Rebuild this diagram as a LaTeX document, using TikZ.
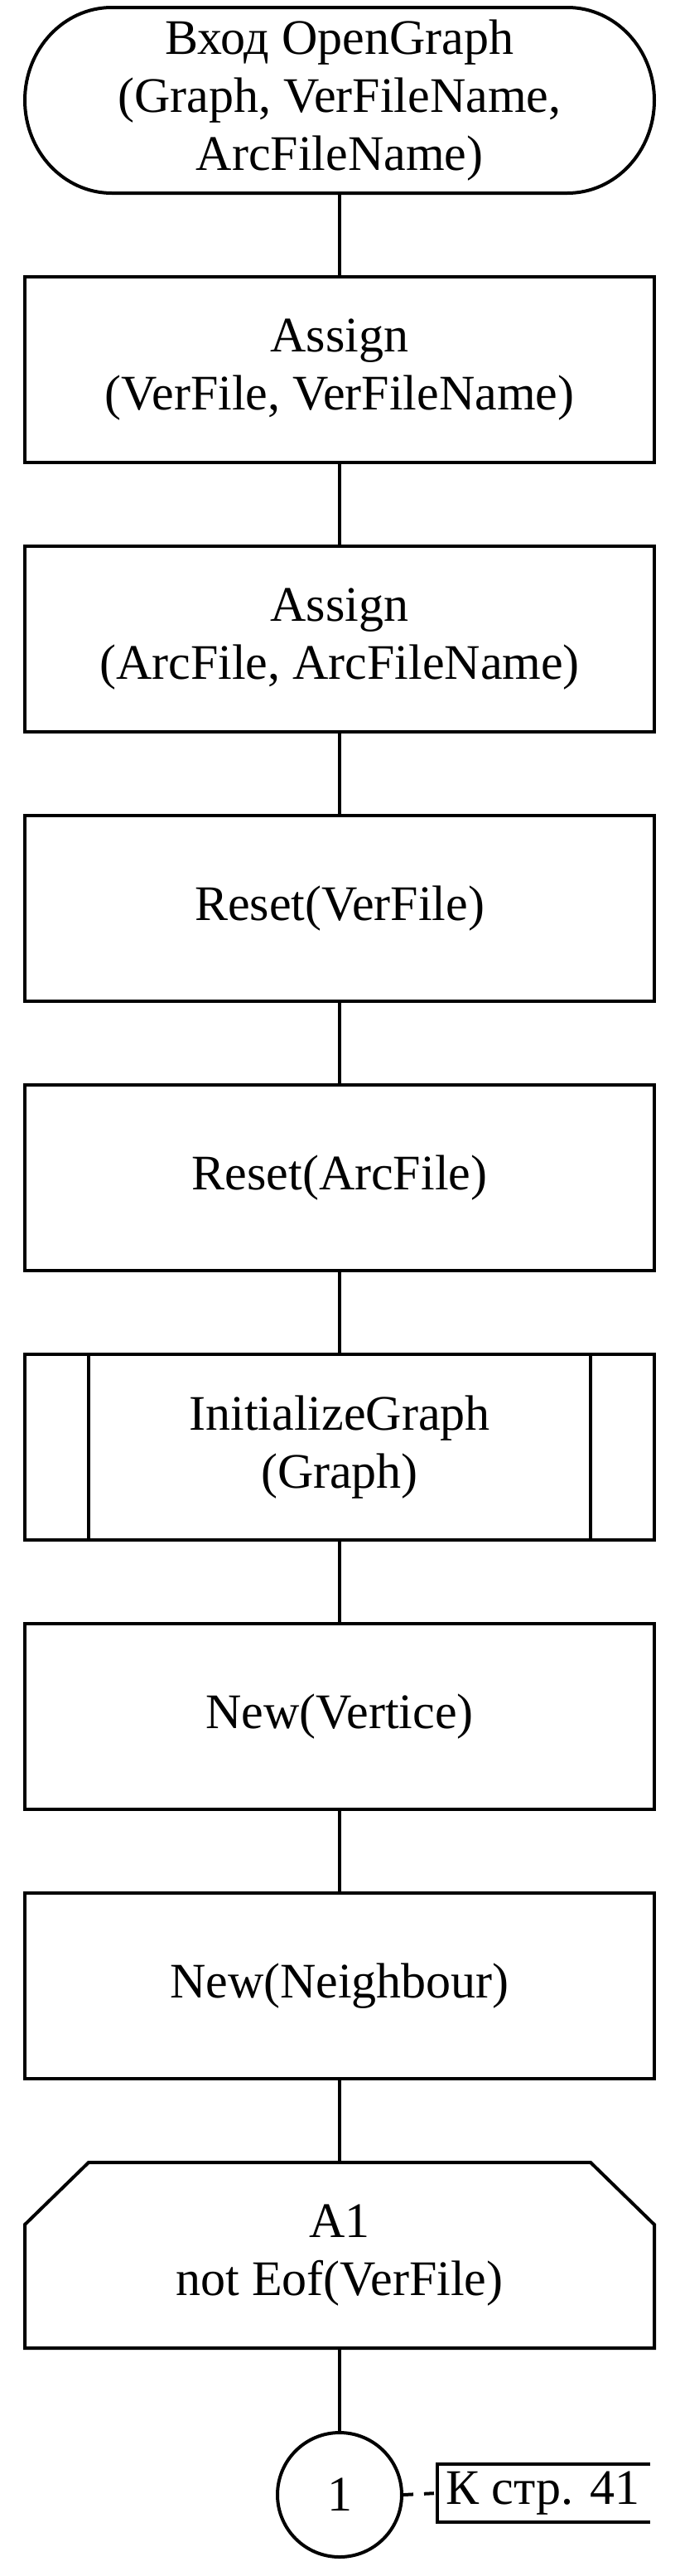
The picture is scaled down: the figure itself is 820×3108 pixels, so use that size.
\documentclass[tikz,border=0pt]{standalone}
\usepackage{fontspec}
\setmainfont{Liberation Serif}
\usetikzlibrary{calc}
\begin{document}
\begin{tikzpicture}[x=1pt,y=-1pt,line width=4pt,
  base/.style={minimum width=760pt,minimum height=224pt,inner sep=0pt,outer sep=0pt,align=center,
    font=\fontsize{60}{70}\selectfont},
  proc/.style={base,draw},
  plain/.style={base},
  conn/.style={line width=4pt},
  txt/.style={font=\fontsize{60}{70}\selectfont}]
\useasboundingbox[fill=white] (0,0) rectangle (820,3108);
% terminal
\node[plain] (t) at (410,121) {Вход OpenGraph\\(Graph, VerFileName,\\ArcFileName)};
\draw ([xshift=105pt]t.north west) -- ([xshift=-105pt]t.north east)
  arc[start angle=90,end angle=-90,x radius=105pt,y radius=112pt]
  -- ([xshift=105pt]t.south west)
  arc[start angle=270,end angle=90,x radius=105pt,y radius=112pt] -- cycle;
\node[proc] (b1) at (410,446) {Assign\\(VerFile, VerFileName)};
\node[proc] (b2) at (410,771) {Assign\\(ArcFile, ArcFileName)};
\node[proc] (b3) at (410,1096) {Reset(VerFile)};
\node[proc] (b4) at (410,1421) {Reset(ArcFile)};
\node[proc] (b5) at (410,1746) {InitializeGraph\\(Graph)};
\draw ([xshift=77pt]b5.north west) -- ([xshift=77pt]b5.south west);
\draw ([xshift=-77pt]b5.north east) -- ([xshift=-77pt]b5.south east);
\node[proc] (b6) at (410,2071) {New(Vertice)};
\node[proc] (b7) at (410,2396) {New(Neighbour)};
% loop start
\node[plain] (h) at (410,2721) {A1\\not Eof(VerFile)};
\draw ([xshift=77pt]h.north west) -- ([xshift=-77pt]h.north east)
  -- ([yshift=-75pt]h.north east) -- (h.south east) -- (h.south west)
  -- ([yshift=-75pt]h.north west) -- cycle;
% connector circle
\node[circle,draw,minimum size=150pt,inner sep=0pt,txt] (c) at (410,3010) {1};
% comment
\node[minimum width=255pt,minimum height=70pt,inner sep=0pt,outer sep=0pt,txt] (k) at (655.5,3008) {К стр. 41};
\draw ([xshift=2pt]k.north east) -- (k.north west) -- (k.south west) -- ([xshift=2pt]k.south east);
\draw[dash pattern=on 12pt off 13pt] (c.east) -- (k.west);
% connectors
\draw[conn] (t.south) -- (b1.north);
\draw[conn] (b1.south) -- (b2.north);
\draw[conn] (b2.south) -- (b3.north);
\draw[conn] (b3.south) -- (b4.north);
\draw[conn] (b4.south) -- (b5.north);
\draw[conn] (b5.south) -- (b6.north);
\draw[conn] (b6.south) -- (b7.north);
\draw[conn] (b7.south) -- (h.north);
\draw[conn] (h.south) -- (c.north);
\end{tikzpicture}
\end{document}
